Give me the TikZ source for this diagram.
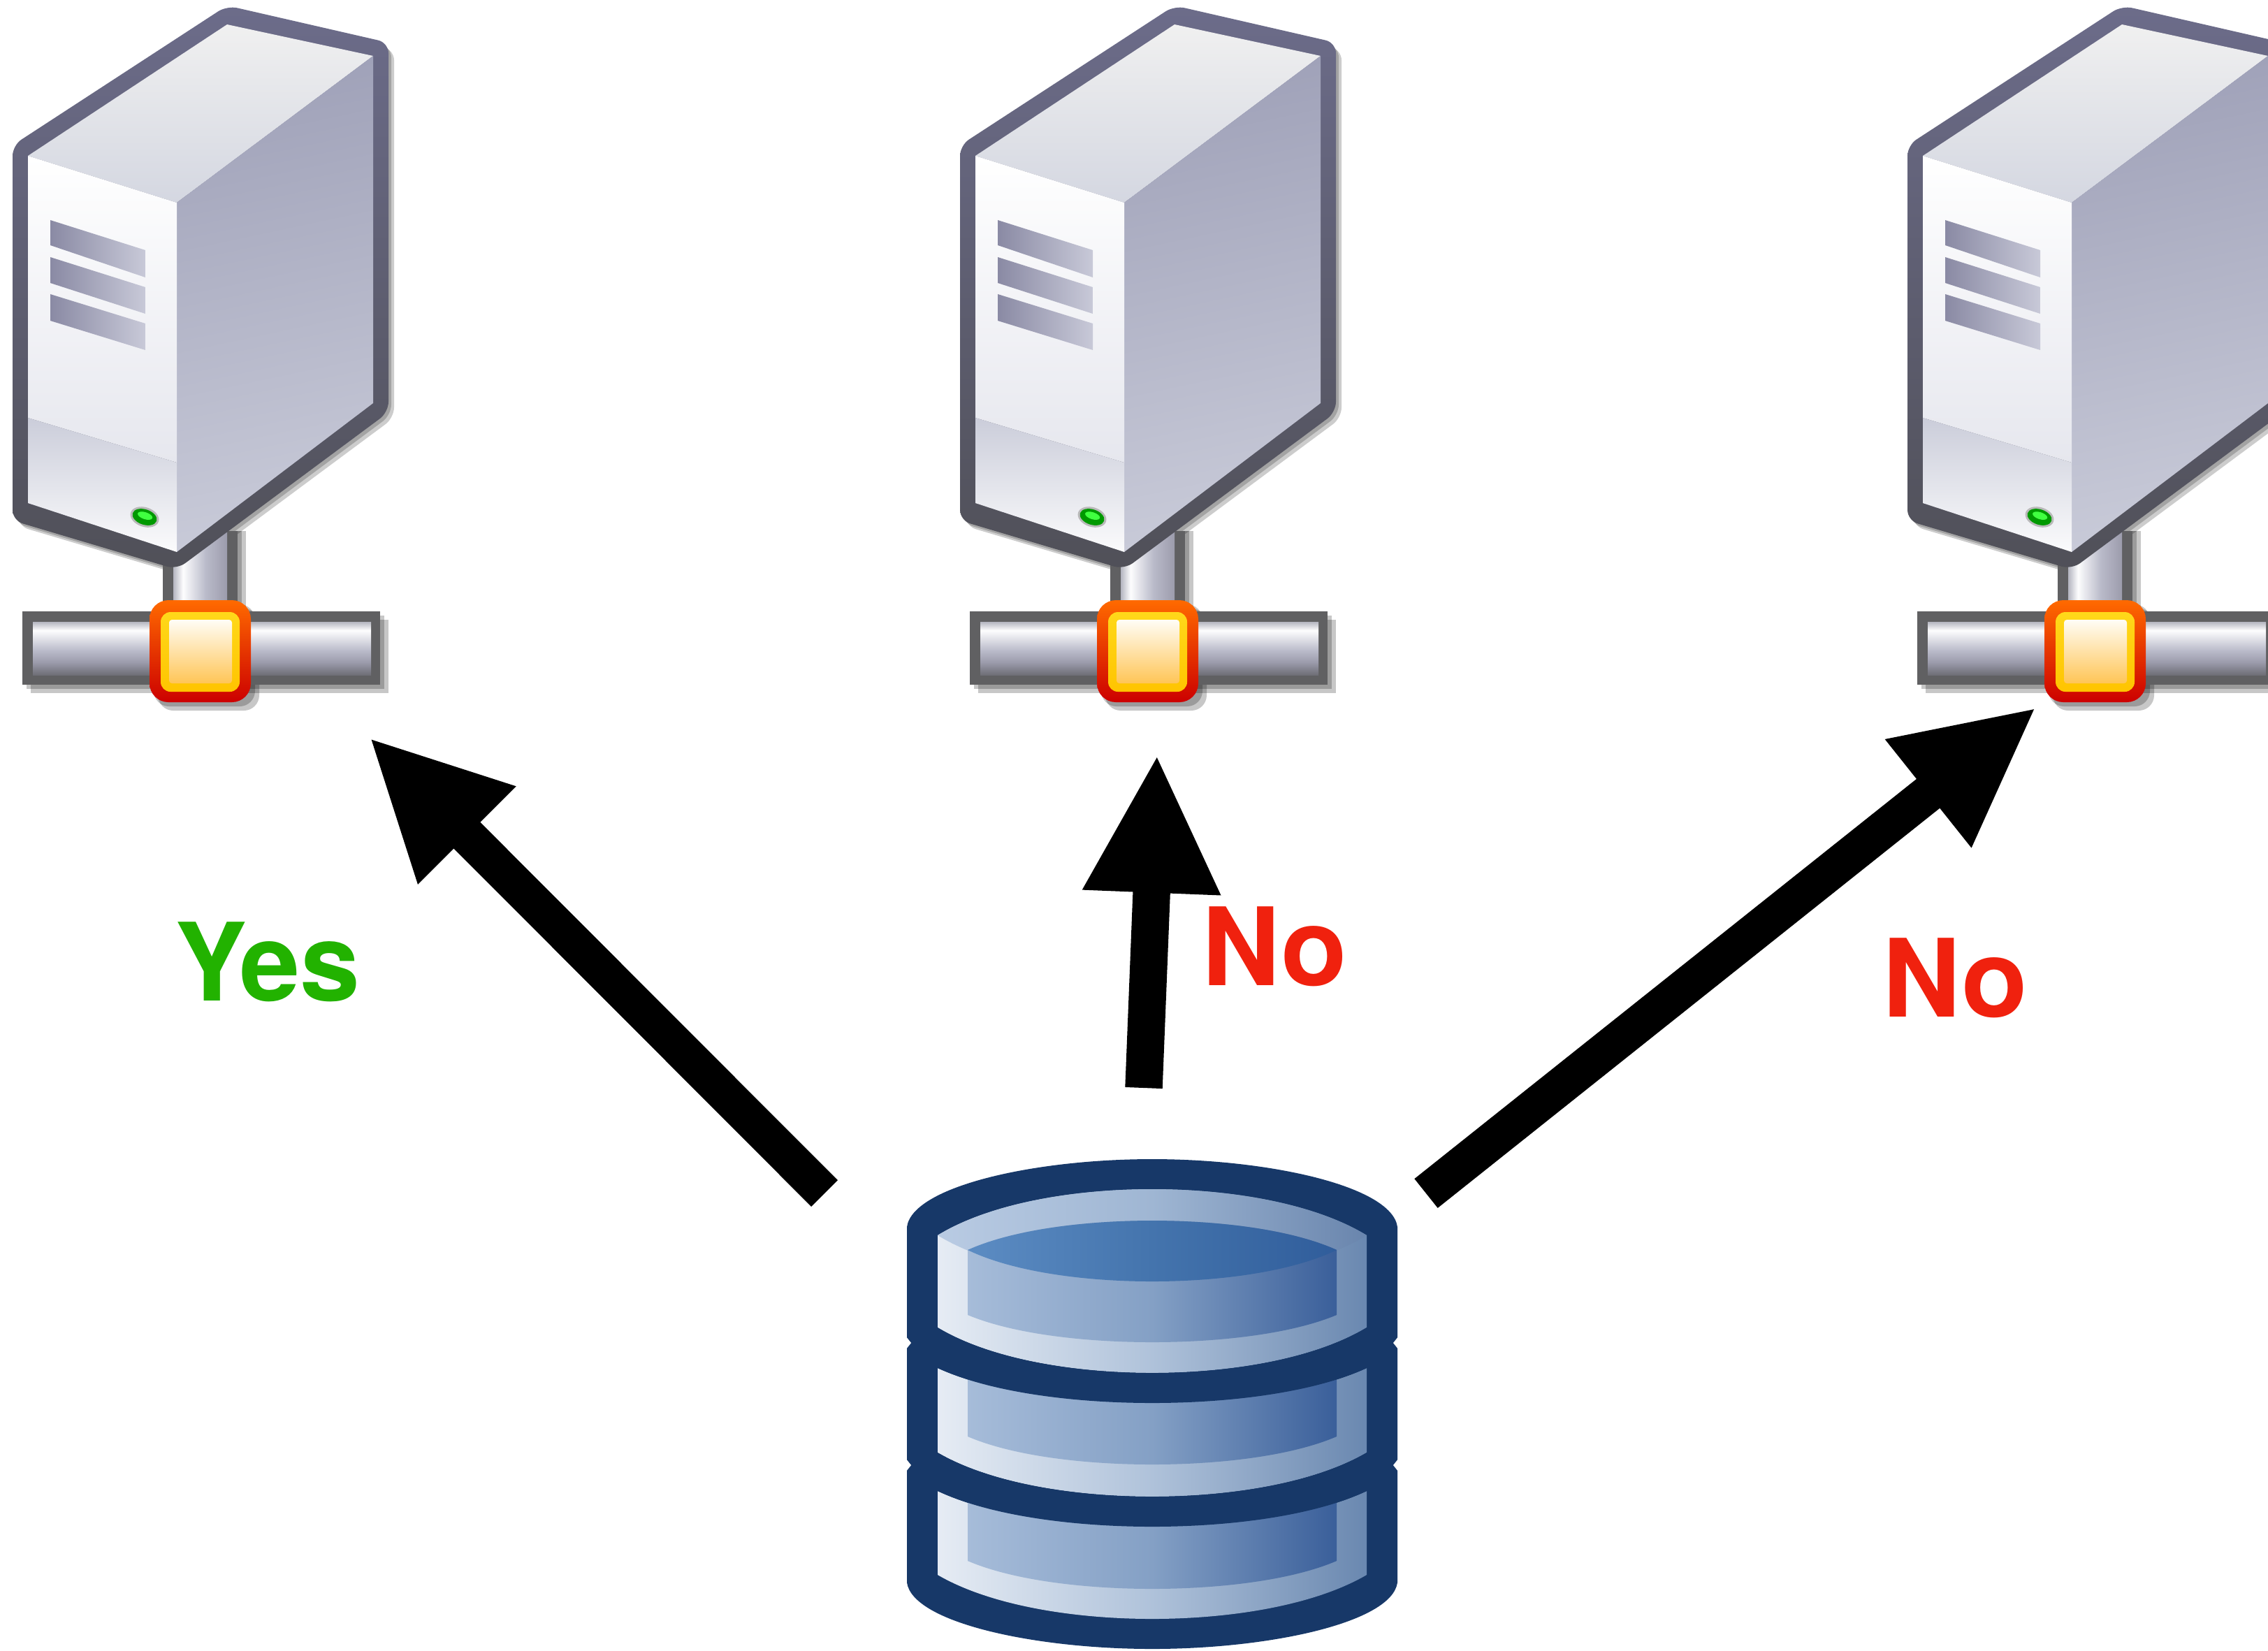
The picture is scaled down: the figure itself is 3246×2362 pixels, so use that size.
\documentclass[tikz,border=0pt]{standalone}
\usepackage{fontspec}
\setmainfont{TeX Gyre Heros}
\usetikzlibrary{arrows.meta}
\definecolor{dbdark}{HTML}{173868}
\definecolor{frameA}{HTML}{6C6C8A}
\definecolor{frameB}{HTML}{505058}
\definecolor{slotA}{HTML}{8A8AA4}
\definecolor{slotB}{HTML}{C8C9D8}
\definecolor{pipeline}{HTML}{606062}
\definecolor{yesgreen}{HTML}{22B200}
\definecolor{nored}{HTML}{F0210E}
\definecolor{topA}{HTML}{F0F0F0}\definecolor{topB}{HTML}{D4D7E1}
\definecolor{sideA}{HTML}{A0A2B9}\definecolor{sideB}{HTML}{C8CAD8}
\definecolor{frontA}{HTML}{FFFFFF}\definecolor{frontB}{HTML}{E6E7EE}
\definecolor{bandA}{HTML}{CBCDDA}\definecolor{bandB}{HTML}{FBFBFC}
\definecolor{hubA}{HTML}{FF6A00}\definecolor{hubB}{HTML}{CC0000}
\definecolor{ringA}{HTML}{FFD81A}\definecolor{ringB}{HTML}{FFC400}
\definecolor{coreA}{HTML}{FFFDF6}\definecolor{coreB}{HTML}{FFD688}\definecolor{coreC}{HTML}{FFC556}
\definecolor{bA}{HTML}{B4B5C0}\definecolor{bB}{HTML}{FDFDFE}\definecolor{bC}{HTML}{BABBCA}\definecolor{bD}{HTML}{9C9CAC}\definecolor{bE}{HTML}{6E6E76}
\definecolor{dA}{HTML}{E6ECF4}\definecolor{dB}{HTML}{AFC2DA}\definecolor{dC}{HTML}{6A88B0}
\definecolor{iA}{HTML}{A6BCD9}\definecolor{iB}{HTML}{84A0C5}\definecolor{iC}{HTML}{3A5F9A}
\definecolor{rA}{HTML}{B9CBE3}\definecolor{rB}{HTML}{9FB6D3}\definecolor{rC}{HTML}{6985AD}
\definecolor{lA}{HTML}{5C8CC3}\definecolor{lB}{HTML}{4474AD}\definecolor{lC}{HTML}{305D9B}
\pgfdeclareverticalshading{barshade}{100bp}{color(0bp)=(bE);color(25bp)=(bE);color(37bp)=(bD);color(48bp)=(bC);color(67bp)=(bB);color(75bp)=(bA);color(100bp)=(bA)}
\pgfdeclarehorizontalshading{pipeshade}{100bp}{color(0bp)=(bA);color(25bp)=(bA);color(34bp)=(bB);color(55bp)=(bC);color(75bp)=(bD);color(100bp)=(bD)}
\pgfdeclarehorizontalshading{dbfront}{100bp}{color(0bp)=(dA);color(25bp)=(dA);color(50bp)=(dB);color(75bp)=(dC);color(100bp)=(dC)}
\pgfdeclarehorizontalshading{dbinner}{100bp}{color(0bp)=(iA);color(25bp)=(iA);color(50bp)=(iB);color(75bp)=(iC);color(100bp)=(iC)}
\pgfdeclarehorizontalshading{dbring}{100bp}{color(0bp)=(rA);color(25bp)=(rA);color(50bp)=(rB);color(75bp)=(rC);color(100bp)=(rC)}
\pgfdeclarehorizontalshading{dblens}{100bp}{color(0bp)=(lA);color(25bp)=(lA);color(50bp)=(lB);color(75bp)=(lC);color(100bp)=(lC)}
% half width, top side y, top middle y, bottom side y, bottom middle y
\newcommand{\tierpath}[5]{({1649-#1},#2) .. controls ({1649-0.75*#1},{#2+0.71*(#3-#2)}) and ({1649-0.355*#1},#3) .. (1649,#3) .. controls ({1649+0.355*#1},#3) and ({1649+0.75*#1},{#2+0.71*(#3-#2)}) .. ({1649+#1},#2) -- ({1649+#1},#4) .. controls ({1649+0.75*#1},{#4+0.71*(#5-#4)}) and ({1649+0.355*#1},#5) .. (1649,#5) .. controls ({1649-0.355*#1},#5) and ({1649-0.75*#1},{#4+0.71*(#5-#4)}) .. ({1649-#1},#4) -- cycle}
\tikzset{
  shadowA/.style={fill=black,opacity=.20},
  shadowB/.style={fill=black,opacity=.22},
  bigarrow/.style={line width=15.2pt,-{Triangle[length=56.5pt,width=52pt]},black},
  verdict/.style={font=\bfseries\fontsize{44}{44}\selectfont,anchor=base,inner sep=0pt},
  server/.pic={
    % shadows
    \foreach \d in {6,12}{
      \fill[shadowB] (32+\d,875+\d) rectangle (544+\d,980+\d);
      \fill[shadowB] (325+\d,760) rectangle (340+\d,870);
      \fill[shadowB,rounded corners=0.22cm] (214+\d,859+\d) rectangle (359+\d,1005+\d);
    }
    \foreach \d in {4,8}{
      \fill[shadowA,rounded corners=0.15cm] (325+\d,8+\d) -- (556+\d,63+\d) -- (556+\d,590+\d) -- (253+\d,815+\d) -- (18+\d,745+\d) -- (18+\d,208+\d) -- cycle;
    }
    % pipe and bar
    \fill[pipeline] (233,760) rectangle (340,880);
    \shade[shading=pipeshade] (248,760) rectangle (325,880);
    \fill[pipeline] (32,875) rectangle (544,980);
    \shade[shading=barshade] (47,890) rectangle (531,966);
    % hub
    \shade[top color=hubA,bottom color=hubB,rounded corners=0.27cm] (214,859) rectangle (359,1005);
    \shade[top color=ringA,bottom color=ringB,rounded corners=0.14cm] (230,876) rectangle (343,990);
    \shade[top color=coreA,middle color=coreB,bottom color=coreC,rounded corners=0.04cm] (242,887) rectangle (332,978);
    % case frame
    \shade[top color=frameA,bottom color=frameB,rounded corners=0.15cm] (325,8) -- (556,61) -- (556,590) -- (253,815) -- (18,745) -- (18,208) -- cycle;
    % faces
    \shade[top color=topA,bottom color=topB] (40,223) -- (325,35) -- (534,80) -- (253,290) -- cycle;
    \shade[top color=sideA,bottom color=sideB,shading angle=12] (253,290) -- (534,80) -- (534,577) -- (253,790) -- cycle;
    \shade[top color=frontA,bottom color=frontB] (40,223) -- (253,290) -- (253,662) -- (40,598) -- cycle;
    \shade[top color=bandA,bottom color=bandB] (40,598) -- (253,662) -- (253,790) -- (40,720) -- cycle;
    % slots
    \shade[left color=slotA,right color=slotB] (72,315) -- (208,358) -- (208,397) -- (72,351) -- cycle;
    \shade[left color=slotA,right color=slotB] (72,368) -- (208,411) -- (208,449) -- (72,405) -- cycle;
    \shade[left color=slotA,right color=slotB] (72,421) -- (208,463) -- (208,501) -- (72,459) -- cycle;
    % LED
    \fill[gray!55,rotate around={-18:(207,740)}] (207,740) ellipse [x radius=21,y radius=14];
    \fill[green!60!black,rotate around={-18:(207,740)}] (207,740) ellipse [x radius=18,y radius=11];
    \fill[green!75!white,rotate around={-18:(207,740)}] (207,738) ellipse [x radius=11,y radius=5];
  }
}
\begin{document}
\begin{tikzpicture}[x=0.01cm,y=-0.01cm]
\useasboundingbox (0,0) rectangle (3246,2362);
\clip (0,0) rectangle (3246,2362);
\fill[white] (0,0) rectangle (3246,2362);

\pic (srvL) at (0,0) {server};
\pic (srvM) at (1356,0) {server};
\pic (srvR) at (2712,0) {server};

% database
\fill[dbdark] (1298,1756) .. controls (1306,1698) and (1480,1659) .. (1649,1659) .. controls (1818,1659) and (1992,1698) .. (2000,1756) -- (2000,2265) .. controls (1992,2322) and (1818,2360) .. (1649,2360) .. controls (1480,2360) and (1306,2322) .. (1298,2265) -- cycle;
\foreach \y in {1922,2097}{
  \fill[white] (1296,\y-10) -- (1304,\y) -- (1296,\y+10) -- cycle;
  \fill[white] (2002,\y-10) -- (1994,\y) -- (2002,\y+10) -- cycle;
}
% tier 1
\shade[shading=dbfront] \tierpath{307}{1768}{1702}{1900}{1965};
\shade[shading=dbring] \tierpath{307}{1768}{1702}{1768}{1834};
\shade[shading=dbinner] \tierpath{264}{1789}{1747}{1882}{1921};
\shade[shading=dblens] \tierpath{264}{1789}{1747}{1789}{1834};
% tier 2
\shade[shading=dbfront] \tierpath{307}{1958}{2008}{2079}{2142};
\shade[shading=dbinner] \tierpath{264}{1950}{1990}{2056}{2096};
\fill[dbdark] \tierpath{307}{1900}{1965}{1958}{2008};
% tier 3
\shade[shading=dbfront] \tierpath{307}{2134}{2185}{2254}{2317};
\shade[shading=dbinner] \tierpath{264}{2125}{2165}{2234}{2274};
\fill[dbdark] \tierpath{307}{2079}{2142}{2134}{2185};

% connectors
\coordinate (dbL) at (1180,1708);
\coordinate (dbM) at (1637,1557);
\coordinate (dbR) at (2041,1708);
\coordinate (inL) at (528,1055);
\coordinate (inM) at (1656,1079);
\coordinate (inR) at (2915,1012);
\draw[bigarrow] (dbL) -- (inL);
\draw[bigarrow] (dbM) -- (inM);
\draw[bigarrow] (dbR) -- (inR);

% labels
\node[verdict,text=yesgreen] (yes) at (383,1432) {Yes};
\node[verdict,text=nored] (noM) at (1824,1410) {No};
\node[verdict,text=nored] (noR) at (2798,1455) {No};
\end{tikzpicture}
\end{document}
